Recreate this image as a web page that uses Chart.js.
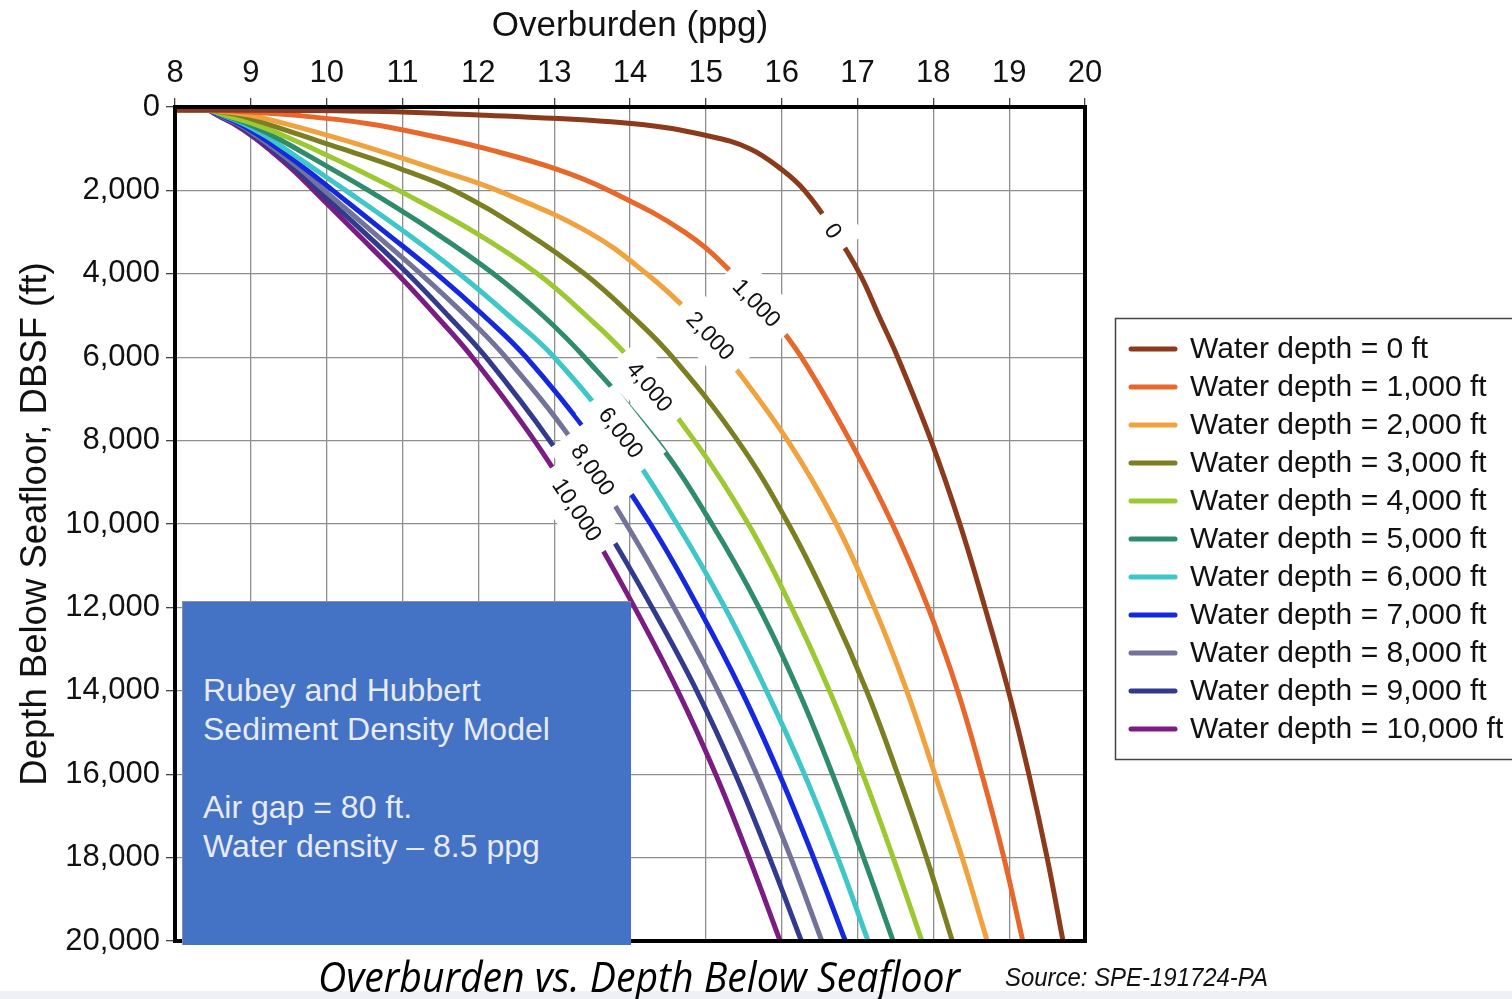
<!DOCTYPE html>
<html>
<head>
<meta charset="utf-8">
<title>Overburden vs. Depth Below Seafloor</title>
<script src="https://cdn.jsdelivr.net/npm/chart.js@4.4.1/dist/chart.umd.min.js"></script>
<style>
  body { margin: 0; background: #fff; }
  #wrap { position: relative; width: 1512px; height: 999px; overflow: hidden; }
  #c { position: absolute; left: 0; top: 0; }
  .band { position: absolute; left: 0; top: 991px; width: 1512px; height: 8px; background: #eef0f6; }
  .note {
    position: absolute; left: 182px; top: 601px; width: 449px; height: 344px;
    background: #4472c4; border-top: 1.5px solid #8a8f99; border-left: 1.5px solid #8a8f99;
    box-sizing: border-box;
  }
  .noteText {
    position: absolute; left: 203px; top: 671px; color: #e8ebf3;
    font: 32px "Liberation Sans", Arial, sans-serif; line-height: 39px; white-space: nowrap;
  }
  .caption {
    position: absolute; left: 318px; top: 947px; white-space: nowrap; transform-origin: 0 0;
    font: italic 42px "Open Sans", "Noto Sans", sans-serif; color: #000;
  }
  .source {
    position: absolute; left: 1005px; top: 962px; white-space: nowrap; transform-origin: 0 0;
    font: italic 26px "Liberation Sans", Arial, sans-serif; color: #111;
  }
</style>
</head>
<body>
<div id="wrap">
  <canvas id="c" width="1512" height="999"></canvas>
  <div class="band"></div>
  <div class="note"></div>
  <div class="noteText">Rubey and Hubbert<br>Sediment Density Model<br><br>Air gap = 80 ft.<br>Water density – 8.5 ppg</div>
  <div class="caption" id="caption">Overburden vs. Depth Below Seafloor</div>
  <div class="source" id="source">Source: SPE-191724-PA</div>
</div>
<script>
// depth below seafloor (ft), shared by every curve
var depthFt = [70, 70, 100, 200, 400, 700, 1000, 1500, 2000, 3000, 4000, 5000, 6000, 8000, 10000, 12000, 14000, 16000, 18000, 20000];

// overburden (ppg) per water depth
var wd0Ppg     = [8.0, 8.45, 10.6, 12.1, 14.05, 15.05, 15.58, 16.0, 16.3, 16.7, 17.03, 17.28, 17.53, 17.97, 18.35, 18.68, 18.99, 19.26, 19.5, 19.71];
var wd1000Ppg  = [8.0, 8.45, 8.8, 9.6, 10.55, 11.4, 12.1, 13.05, 13.72, 14.72, 15.36, 15.85, 16.26, 16.9, 17.46, 17.93, 18.32, 18.64, 18.93, 19.18];
var wd2000Ppg  = [8.0, 8.45, 8.6, 9.0, 9.45, 10.05, 10.6, 11.45, 12.25, 13.45, 14.22, 14.82, 15.28, 16.08, 16.72, 17.22, 17.65, 18.02, 18.38, 18.71];
var wd3000Ppg  = [8.0, 8.45, 8.55, 8.85, 9.2, 9.7, 10.2, 11.0, 11.68, 12.62, 13.4, 14.02, 14.56, 15.42, 16.09, 16.64, 17.12, 17.53, 17.91, 18.25];
var wd4000Ppg  = [8.0, 8.45, 8.5, 8.67, 9.03, 9.45, 9.82, 10.4, 10.95, 11.95, 12.78, 13.42, 13.98, 14.85, 15.56, 16.13, 16.63, 17.07, 17.47, 17.85];
var wd5000Ppg  = [8.0, 8.45, 8.5, 8.65, 8.95, 9.3, 9.6, 10.08, 10.55, 11.42, 12.2, 12.85, 13.4, 14.35, 15.08, 15.7, 16.22, 16.67, 17.08, 17.47];
var wd6000Ppg  = [8.0, 8.45, 8.49, 8.63, 8.9, 9.2, 9.45, 9.85, 10.25, 11.03, 11.75, 12.4, 13.0, 13.9, 14.62, 15.25, 15.8, 16.3, 16.74, 17.14];
var wd7000Ppg  = [8.0, 8.45, 8.48, 8.6, 8.85, 9.12, 9.36, 9.73, 10.08, 10.77, 11.45, 12.07, 12.63, 13.52, 14.27, 14.9, 15.47, 15.97, 16.42, 16.84];
var wd8000Ppg  = [8.0, 8.45, 8.47, 8.58, 8.82, 9.08, 9.31, 9.66, 9.97, 10.61, 11.24, 11.83, 12.36, 13.24, 13.95, 14.58, 15.16, 15.67, 16.12, 16.53];
var wd9000Ppg  = [8.0, 8.45, 8.47, 8.57, 8.8, 9.05, 9.27, 9.6, 9.89, 10.49, 11.07, 11.6, 12.1, 12.94, 13.65, 14.29, 14.88, 15.39, 15.84, 16.26];
var wd10000Ppg = [8.0, 8.45, 8.47, 8.56, 8.77, 9.02, 9.23, 9.55, 9.83, 10.38, 10.93, 11.44, 11.92, 12.74, 13.44, 14.06, 14.63, 15.13, 15.57, 15.98];

var waterDepths = [0, 1000, 2000, 3000, 4000, 5000, 6000, 7000, 8000, 9000, 10000];
var curveColors = ["#8c3a1c", "#e8672a", "#f0a23e", "#7b7f22", "#9cc832", "#2f8c6b", "#3ec6c8", "#1428e0", "#72729a", "#323a8e", "#7a1c82"];

// contour labels on the curves
var curveLabels = ["0", "1,000", "2,000", "4,000", "6,000", "8,000", "10,000"];
var labelPpg    = [16.68, 15.67, 15.06, 14.26, 13.88, 13.51, 13.3];
var labelDepth  = [2975, 4700, 5490, 6710, 7810, 8700, 9660];
var labelAngle  = [56, 46, 46, 50, 52, 54, 56];

var series = [wd0Ppg, wd1000Ppg, wd2000Ppg, wd3000Ppg, wd4000Ppg, wd5000Ppg, wd6000Ppg, wd7000Ppg, wd8000Ppg, wd9000Ppg, wd10000Ppg];

var FONT = '"Liberation Sans", Arial, sans-serif';
Chart.defaults.font.family = FONT;

var datasets = [];
for (var i = 0; i < series.length; i++) {
    var pts = [];
    for (var j = 0; j < depthFt.length; j++) {
        pts.push({x: series[i][j], y: depthFt[j]});
    }
    datasets.push({
        label: "Water depth = " + waterDepths[i].toLocaleString("en-US") + " ft",
        data: pts,
        showLine: true,
        borderColor: curveColors[i],
        backgroundColor: curveColors[i],
        borderWidth: 5,
        pointRadius: 0,
        tension: 0.4
    });
}

var curveLabelPlugin = {
    id: "curveLabels",
    afterDatasetsDraw: function(chart) {
        var ctx = chart.ctx, xs = chart.scales.x, ys = chart.scales.y;
        ctx.save();
        ctx.font = "23px " + FONT;
        // white boxes first, then text
        for (var k = 0; k < curveLabels.length; k++) {
            var w = ctx.measureText(curveLabels[k]).width;
            ctx.save();
            ctx.translate(xs.getPixelForValue(labelPpg[k]), ys.getPixelForValue(labelDepth[k]));
            ctx.rotate(labelAngle[k] * Math.PI / 180);
            ctx.fillStyle = "#fff";
            ctx.fillRect(-w / 2 - 14, -24, w + 28, 48);
            ctx.restore();
        }
        for (var k = 0; k < curveLabels.length; k++) {
            ctx.save();
            ctx.translate(xs.getPixelForValue(labelPpg[k]), ys.getPixelForValue(labelDepth[k]));
            ctx.rotate(labelAngle[k] * Math.PI / 180);
            ctx.fillStyle = "#111";
            ctx.textAlign = "center";
            ctx.textBaseline = "middle";
            ctx.fillText(curveLabels[k], 0, 1);
            ctx.restore();
        }
        ctx.restore();
    }
};

var framePlugin = {
    id: "frame",
    afterDraw: function(chart) {
        var a = chart.chartArea, ctx = chart.ctx;
        ctx.save();
        ctx.strokeStyle = "#000";
        ctx.lineWidth = 4;
        ctx.strokeRect(a.left, a.top, a.right - a.left, a.bottom - a.top);

        // legend box
        ctx.fillStyle = "#fff";
        ctx.fillRect(1115, 318, 420, 442);
        ctx.strokeStyle = "#444";
        ctx.lineWidth = 1.5;
        ctx.strokeRect(1115.5, 318.5, 420, 441);
        ctx.font = "30px " + FONT;
        ctx.textBaseline = "middle";
        chart.data.datasets.forEach(function(ds, n) {
            var y = 349 + n * 38;
            ctx.strokeStyle = ds.borderColor;
            ctx.lineWidth = 5;
            ctx.lineCap = "round";
            ctx.beginPath();
            ctx.moveTo(1131, y);
            ctx.lineTo(1175, y);
            ctx.stroke();
            ctx.fillStyle = "#111";
            ctx.fillText(ds.label, 1190, y + 1);
        });
        ctx.restore();
    }
};

var chart = new Chart(document.getElementById("c"), {
    type: "scatter",
    data: { datasets: datasets },
    options: {
        responsive: false,
        animation: false,
        layout: { padding: { left: 0, top: 0, right: 427, bottom: 58 } },
        plugins: { legend: { display: false }, tooltip: { enabled: false } },
        scales: {
            x: {
                type: "linear", position: "top", min: 8, max: 20,
                ticks: { stepSize: 1, font: { size: 31 }, color: "#111", padding: 6 },
                grid: { color: "#8e8e8e", lineWidth: 1.3, tickLength: 9, tickColor: "#444" },
                border: { display: false },
                title: { display: true, text: "Overburden (ppg)", font: { size: 35 }, color: "#111", padding: { top: 5, bottom: 0 } },
                afterFit: function(s) { s.height = 107; }
            },
            y: {
                type: "linear", reverse: true, min: 0, max: 20000,
                ticks: { stepSize: 2000, font: { size: 31 }, color: "#111", padding: 6,
                    callback: function(v) { return v.toLocaleString("en-US"); } },
                grid: { color: "#8e8e8e", lineWidth: 1.3, tickLength: 9, tickColor: "#444" },
                border: { display: false },
                title: { display: true, text: "Depth Below Seafloor, DBSF (ft)", font: { size: 36.5 }, color: "#111", padding: { top: 14, bottom: 0 } },
                afterFit: function(s) { s.width = 175; }
            }
        }
    },
    plugins: [curveLabelPlugin, framePlugin]
});

// squeeze caption texts to the widths seen in the picture
function fitWidth(id, w) {
    var el = document.getElementById(id);
    var r = el.getBoundingClientRect().width;
    el.style.transform = "scaleX(" + (w / r) + ")";
}
fitWidth("caption", 642);
fitWidth("source", 263);
</script>
</body>
</html>
